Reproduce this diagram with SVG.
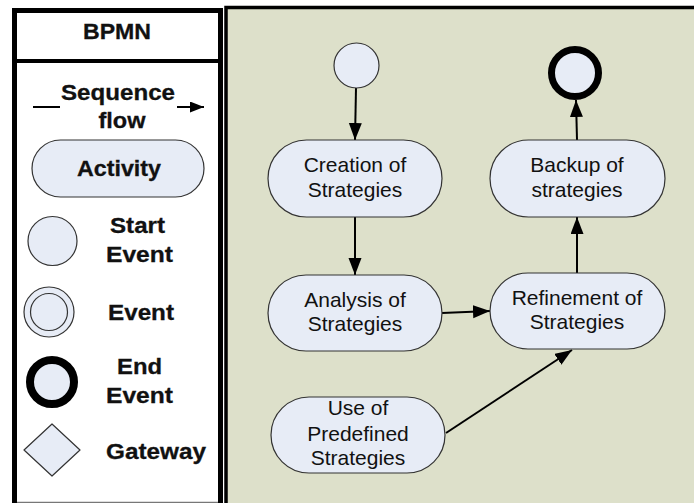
<svg xmlns="http://www.w3.org/2000/svg" width="694" height="503" viewBox="0 0 694 503">
<style>
.node{fill:#E7ECF6;stroke:#333;stroke-width:1.2}
.lbl{font-family:"Liberation Sans",Arial,sans-serif;font-size:21px;fill:#111;text-anchor:middle}
.leg{font-family:"Liberation Sans",Arial,sans-serif;font-weight:bold;font-size:22px;fill:#111;stroke:#111;stroke-width:0.3;text-anchor:middle}
.conn{stroke:#000;stroke-width:2;fill:none;marker-end:url(#arr)}
</style>
<defs>
<marker id="arr" markerUnits="userSpaceOnUse" markerWidth="18" markerHeight="14" refX="17" refY="6.5" orient="auto">
<path d="M0,0 L17,6.5 L0,13 z" fill="#000"/>
</marker>
<marker id="arrs" markerUnits="userSpaceOnUse" markerWidth="15" markerHeight="12" refX="14" refY="5.5" orient="auto">
<path d="M0,0 L14,5.5 L0,11 z" fill="#000"/>
</marker>
</defs>
<rect width="694" height="503" fill="#fff"/>
<g id="legend">
<rect x="14.5" y="10.5" width="206" height="510" fill="#fff" stroke="#000" stroke-width="5"/>
<line x1="17" y1="61" x2="218" y2="61" stroke="#000" stroke-width="4"/>
<line x1="17" y1="502.5" x2="218" y2="502.5" stroke="#777" stroke-width="1.5"/>
<text class="leg" x="117" y="39" font-size="19" textLength="68" lengthAdjust="spacingAndGlyphs">BPMN</text>
<g id="legend-seq">
<line x1="33" y1="107" x2="60" y2="107" stroke="#000" stroke-width="2"/>
<line x1="177" y1="107" x2="204" y2="107" stroke="#000" stroke-width="2" marker-end="url(#arrs)"/>
<text class="leg" x="118" y="100" textLength="114" lengthAdjust="spacingAndGlyphs">Sequence</text>
<text class="leg" x="122" y="128" textLength="47" lengthAdjust="spacingAndGlyphs">flow</text>
</g>
<g id="legend-activity">
<rect class="node" x="32" y="140" width="172" height="57" rx="28.5"/>
<text class="leg" x="119" y="176" font-size="24" textLength="84" lengthAdjust="spacingAndGlyphs">Activity</text>
</g>
<g id="legend-start">
<circle class="node" cx="52.5" cy="241" r="24.5" stroke="#555"/>
<text class="leg" x="137.5" y="233" textLength="55" lengthAdjust="spacingAndGlyphs">Start</text>
<text class="leg" x="139.5" y="262" textLength="67" lengthAdjust="spacingAndGlyphs">Event</text>
</g>
<g id="legend-event">
<circle class="node" cx="49" cy="312" r="25" stroke="#555"/>
<circle class="node" cx="49" cy="312" r="18.5" stroke="#555"/>
<text class="leg" x="141" y="320" textLength="66" lengthAdjust="spacingAndGlyphs">Event</text>
</g>
<g id="legend-end">
<circle cx="52" cy="382" r="22" fill="#E7ECF6" stroke="#000" stroke-width="8"/>
<text class="leg" x="139.5" y="374" textLength="45" lengthAdjust="spacingAndGlyphs">End</text>
<text class="leg" x="139.5" y="403" textLength="67" lengthAdjust="spacingAndGlyphs">Event</text>
</g>
<g id="legend-gateway">
<path class="node" d="M52,424 L80,450 L52,476 L24,450 z" stroke-linejoin="round" stroke="#444"/>
<text class="leg" x="156" y="459" textLength="100" lengthAdjust="spacingAndGlyphs">Gateway</text>
</g>
</g>
<rect x="226" y="7.5" width="480" height="510" fill="#DDE0CA" stroke="#000" stroke-width="3.5"/>
<g id="connectors">
<line class="conn" x1="356" y1="88" x2="355" y2="140"/>
<line class="conn" x1="355" y1="217" x2="355" y2="275"/>
<line class="conn" x1="442" y1="313" x2="490" y2="311"/>
<line class="conn" x1="577" y1="273" x2="577" y2="217"/>
<line class="conn" x1="577" y1="140" x2="576" y2="100"/>
<line class="conn" x1="446" y1="433" x2="572" y2="350"/>
</g>
<g id="start">
<circle class="node" cx="356.5" cy="65.5" r="22.5"/>
</g>
<g id="end">
<circle cx="575" cy="73" r="23.5" fill="#E7ECF6" stroke="#000" stroke-width="7"/>
</g>
<g id="creation">
<rect class="node" x="268" y="140" width="174" height="77" rx="38.5"/>
<text class="lbl" x="355" y="172">Creation of</text>
<text class="lbl" x="355" y="197">Strategies</text>
</g>
<g id="backup">
<rect class="node" x="490" y="140" width="175" height="77" rx="38.5"/>
<text class="lbl" x="577" y="172">Backup of</text>
<text class="lbl" x="577" y="197">strategies</text>
</g>
<g id="analysis">
<rect class="node" x="268" y="275" width="174" height="76" rx="38"/>
<text class="lbl" x="355" y="307">Analysis of</text>
<text class="lbl" x="355" y="331">Strategies</text>
</g>
<g id="refinement">
<rect class="node" x="490" y="273" width="175" height="76" rx="38"/>
<text class="lbl" x="577" y="305">Refinement of</text>
<text class="lbl" x="577" y="329">Strategies</text>
</g>
<g id="predefined">
<rect class="node" x="271" y="397" width="174" height="76" rx="38"/>
<text class="lbl" x="358" y="415">Use of</text>
<text class="lbl" x="358" y="441">Predefined</text>
<text class="lbl" x="358" y="465">Strategies</text>
</g>
</svg>
